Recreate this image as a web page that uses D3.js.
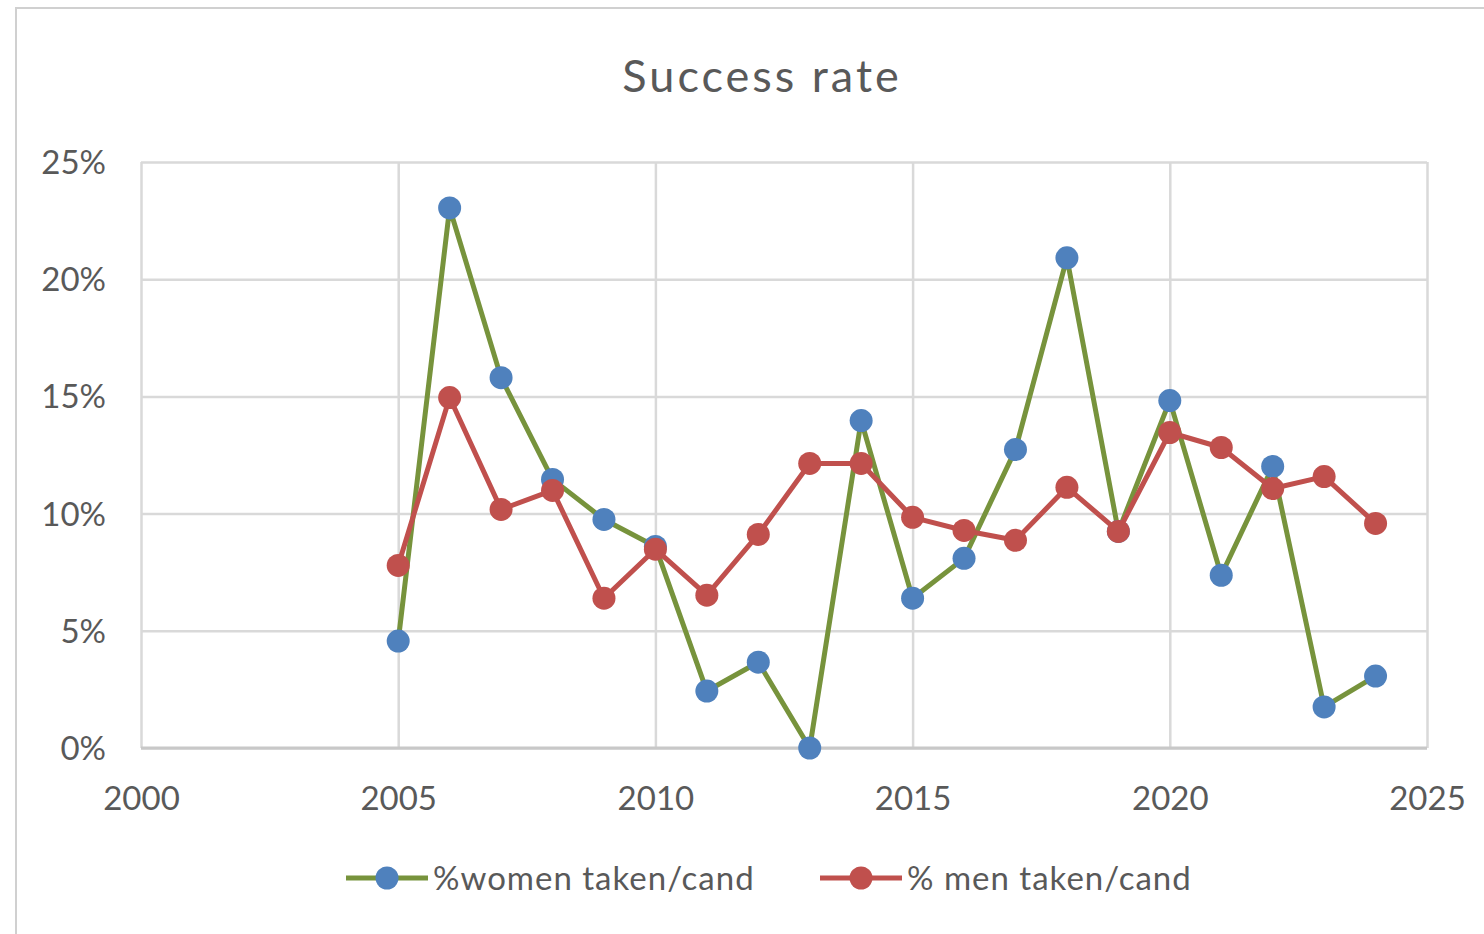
<!DOCTYPE html>
<html><head><meta charset="utf-8">
<script src="https://cdn.jsdelivr.net/npm/d3@7"></script>
<style>html,body{margin:0;padding:0;background:#fff;}</style>
</head><body>
<svg id="chart" width="1484" height="934"></svg>
<script>
const years = [2005,2006,2007,2008,2009,2010,2011,2012,2013,2014,2015,2016,2017,2018,2019,2020,2021,2022,2023,2024];
const women = [0.0456,0.2304,0.158,0.1146,0.0975,0.086,0.0243,0.0366,0.0,0.1397,0.0639,0.0809,0.1273,0.2091,0.0924,0.1482,0.0737,0.1201,0.0175,0.0307];
const men = [0.0779,0.1495,0.1018,0.1099,0.0639,0.0848,0.0652,0.0911,0.1214,0.1214,0.0984,0.0928,0.0886,0.1112,0.0924,0.1346,0.1282,0.1107,0.1158,0.0958];
const xTicks = [2000,2005,2010,2015,2020,2025];
const yTicks = [0,0.05,0.10,0.15,0.20,0.25];
const seriesNames = ["%women taken/cand","% men taken/cand"];
const title = "Success rate";

const svg = d3.select("#chart");
const font = "Lato, 'Open Sans', sans-serif";
const textColor = "#595959";
const L = 141, R = 1427, T = 162, B = 748;
const x = d3.scaleLinear().domain([2000,2025]).range([L,R]);
const y = d3.scaleLinear().domain([0,0.25]).range([B,T]);

// outer frame
svg.append("rect").attr("x",16).attr("y",8).attr("width",1520).attr("height",1000)
  .attr("fill","none").attr("stroke","#d0d0d0").attr("stroke-width",2);

// title
svg.append("text").attr("x",762).attr("y",92).attr("text-anchor","middle")
  .attr("font-family",font).attr("font-size",45).attr("letter-spacing",3)
  .attr("fill",textColor).text(title);

// gridlines
const gY = svg.append("g").attr("transform",`translate(${L},0)`)
  .call(d3.axisLeft(y).tickValues(yTicks).tickSize(-(R-L)).tickFormat(""));
gY.select(".domain").remove();
gY.selectAll("line").attr("stroke","#d9d9d9").attr("stroke-width",2.5);
const gX = svg.append("g").attr("transform",`translate(0,${B})`)
  .call(d3.axisBottom(x).tickValues(xTicks).tickSize(-(B-T)).tickFormat(""));
gX.select(".domain").remove();
gX.selectAll("line").attr("stroke","#d9d9d9").attr("stroke-width",2.5);
// bottom axis line
svg.append("line").attr("x1",L).attr("x2",R).attr("y1",y(0)).attr("y2",y(0))
  .attr("stroke","#c8c8c8").attr("stroke-width",3);

// tick labels
const yl = svg.append("g").attr("transform",`translate(106,0)`)
  .call(d3.axisLeft(y).tickValues(yTicks).tickSize(0).tickFormat(d3.format(".0%")));
yl.select(".domain").remove();
yl.selectAll("text").attr("font-family",font).attr("font-size",33).attr("fill",textColor)
  .attr("x",0).attr("dy","0.35em");
const xl = svg.append("g").attr("transform",`translate(0,${B})`)
  .call(d3.axisBottom(x).tickValues(xTicks).tickSize(0).tickFormat(d3.format("d")));
xl.select(".domain").remove();
xl.selectAll("text").attr("font-family",font).attr("font-size",33).attr("fill",textColor)
  .attr("y",50).attr("dy","0.35em");

const line = d3.line().x(d=>x(d[0])).y(d=>y(d[1]));
const series = [
  {vals: women, lc:"#77933c", mc:"#4f81bd"},
  {vals: men, lc:"#c0504d", mc:"#c0504d"}
];
series.forEach(s=>{
  const pts = years.map((yr,i)=>[yr,s.vals[i]]);
  svg.append("path").datum(pts).attr("d",line).attr("fill","none")
    .attr("stroke",s.lc).attr("stroke-width",5).attr("stroke-linejoin","round");
  svg.append("g").selectAll("circle").data(pts).join("circle")
    .attr("cx",d=>x(d[0])).attr("cy",d=>y(d[1])).attr("r",11.5).attr("fill",s.mc);
});

// legend
const legendX = [346, 820];
series.forEach((s,i)=>{
  const g = svg.append("g").attr("transform",`translate(${legendX[i]},878)`);
  g.append("line").attr("x1",0).attr("x2",82).attr("stroke",s.lc).attr("stroke-width",5);
  g.append("circle").attr("cx",41).attr("r",11.5).attr("fill",s.mc);
  g.append("text").attr("x",87).attr("dy","0.35em").attr("font-family",font)
    .attr("font-size",33).attr("letter-spacing",1).attr("fill",textColor).text(seriesNames[i]);
});
</script>
</body></html>
